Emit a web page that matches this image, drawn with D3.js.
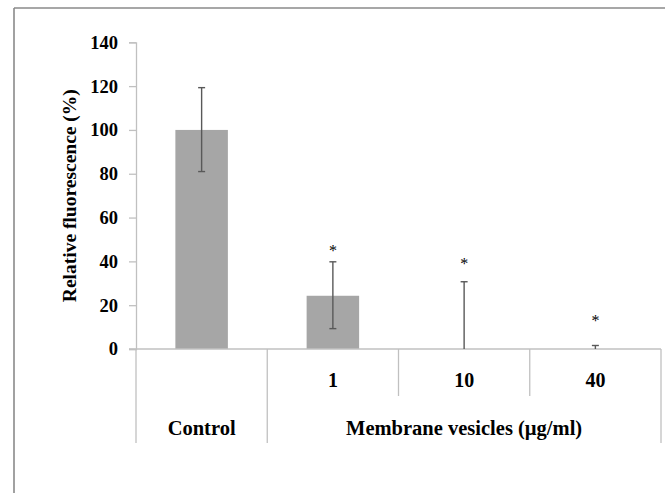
<!DOCTYPE html>
<html>
<head>
<meta charset="utf-8">
<script src="https://cdn.jsdelivr.net/npm/d3@7"></script>
<style>
  html, body { margin: 0; padding: 0; background: #fff; }
  svg { display: block; }
</style>
</head>
<body>
<svg id="chart" width="665" height="493"></svg>
<script>
// ---- data ----
const categories = ["Control", "1", "10", "40"];
const values = [100, 24.3, 0, 0];
const errLow = [81, 9.3, 0, 0];
const errHigh = [119.3, 39.8, 30.7, 1.6];
const starLevels = [null, 47.5, 41.5, 15.5];
const yTicks = [0, 20, 40, 60, 80, 100, 120, 140];
const groupLabels = ["Control", "Membrane vesicles (\u00b5g/ml)"];
const groupSpans = [[0, 0], [1, 3]];
const yTitle = "Relative fluorescence (%)";

// ---- layout ----
const svg = d3.select("#chart");
const plotLeft = 136, plotRight = 661, plotTop = 42.3, plotBottom = 349;
const x = d3.scaleBand().domain(categories).range([plotLeft, plotRight]).paddingInner(0.6).paddingOuter(0.3);
const y = d3.scaleLinear().domain([0, 140]).range([plotBottom, plotTop]);
const step = x.step();
const axisColor = "#c0c0c0";
const FONT = "Liberation Serif";

// outer frame
svg.append("line").attr("x1", 14).attr("y1", 8).attr("x2", 665).attr("y2", 8)
  .attr("stroke", "#8a8a8a").attr("stroke-width", 1.6);
svg.append("line").attr("x1", 14).attr("y1", 8).attr("x2", 14).attr("y2", 493)
  .attr("stroke", "#8a8a8a").attr("stroke-width", 1.6);

// y axis
const yAxis = d3.axisLeft(y).tickValues(yTicks).tickSize(7).tickPadding(11).tickFormat(d3.format("d"));
const gy = svg.append("g").attr("transform", `translate(${plotLeft},0)`).call(yAxis)
  .attr("font-family", FONT).attr("font-size", 18.5);
gy.select(".domain").attr("stroke", axisColor).attr("stroke-width", 1.3);
gy.selectAll(".tick line").attr("stroke", axisColor).attr("stroke-width", 1.3);
gy.selectAll(".tick text").attr("fill", "#000").attr("font-weight", "bold");

// y title
svg.append("text")
  .attr("transform", `translate(76,${(plotTop + plotBottom) / 2}) rotate(-90)`)
  .attr("text-anchor", "middle")
  .attr("font-size", 19.5)
  .text(yTitle);

// bars
svg.selectAll("rect.bar").data(categories).enter().append("rect")
  .attr("class", "bar")
  .attr("x", d => x(d))
  .attr("width", x.bandwidth())
  .attr("y", (d, i) => y(values[i]))
  .attr("height", (d, i) => y(0) - y(values[i]))
  .attr("fill", "#a6a6a6");

// x axis baseline
svg.append("line").attr("x1", plotLeft - 7).attr("x2", plotRight).attr("y1", y(0)).attr("y2", y(0))
  .attr("stroke", axisColor).attr("stroke-width", 1.3);

// error bars
const eg = svg.append("g").attr("stroke", "#595959").attr("stroke-width", 1.4);
categories.forEach((c, i) => {
  const cx = x(c) + x.bandwidth() / 2;
  eg.append("line").attr("x1", cx).attr("x2", cx).attr("y1", y(errLow[i])).attr("y2", y(errHigh[i]));
  eg.append("line").attr("x1", cx - 3.5).attr("x2", cx + 3.5).attr("y1", y(errHigh[i])).attr("y2", y(errHigh[i]));
  if (values[i] > 0) {
    eg.append("line").attr("x1", cx - 3.5).attr("x2", cx + 3.5).attr("y1", y(errLow[i])).attr("y2", y(errLow[i]));
  }
});

// significance stars
categories.forEach((c, i) => {
  if (starLevels[i] == null) return;
  svg.append("text")
    .attr("class", "star")
    .attr("x", x(c) + x.bandwidth() / 2)
    .attr("y", y(starLevels[i]))
    .attr("dy", "0.7em")
    .attr("text-anchor", "middle")
    .attr("font-size", 16)
    .text("*");
});

// category table separators
const bandStart = i => plotLeft + step * i;
const dividers = [
  { i: 0, y2: 443 }, { i: 1, y2: 443 }, { i: 2, y2: 396 }, { i: 3, y2: 396 }, { i: 4, y2: 443 }
];
svg.selectAll("line.div").data(dividers).enter().append("line")
  .attr("class", "div")
  .attr("x1", d => bandStart(d.i)).attr("x2", d => bandStart(d.i))
  .attr("y1", y(0)).attr("y2", d => d.y2)
  .attr("stroke", axisColor).attr("stroke-width", 1.3);

// first-level labels (doses)
categories.forEach((c, i) => {
  if (i === 0) return;
  svg.append("text")
    .attr("x", x(c) + x.bandwidth() / 2)
    .attr("y", 380)
    .attr("dy", "0.35em")
    .attr("text-anchor", "middle")
    .attr("font-size", 20)
    .text(c);
});

// second-level group labels
groupLabels.forEach((g, k) => {
  const [a, b] = groupSpans[k];
  svg.append("text")
    .attr("x", (bandStart(a) + bandStart(b + 1)) / 2)
    .attr("y", 428)
    .attr("dy", "0.35em")
    .attr("text-anchor", "middle")
    .attr("font-size", 20.5)
    .text(g);
});

// common text styling
svg.selectAll("text").attr("font-family", FONT).attr("fill", "#000")
  .attr("font-weight", function () { return d3.select(this).classed("star") ? "normal" : "bold"; });
</script>
</body>
</html>
